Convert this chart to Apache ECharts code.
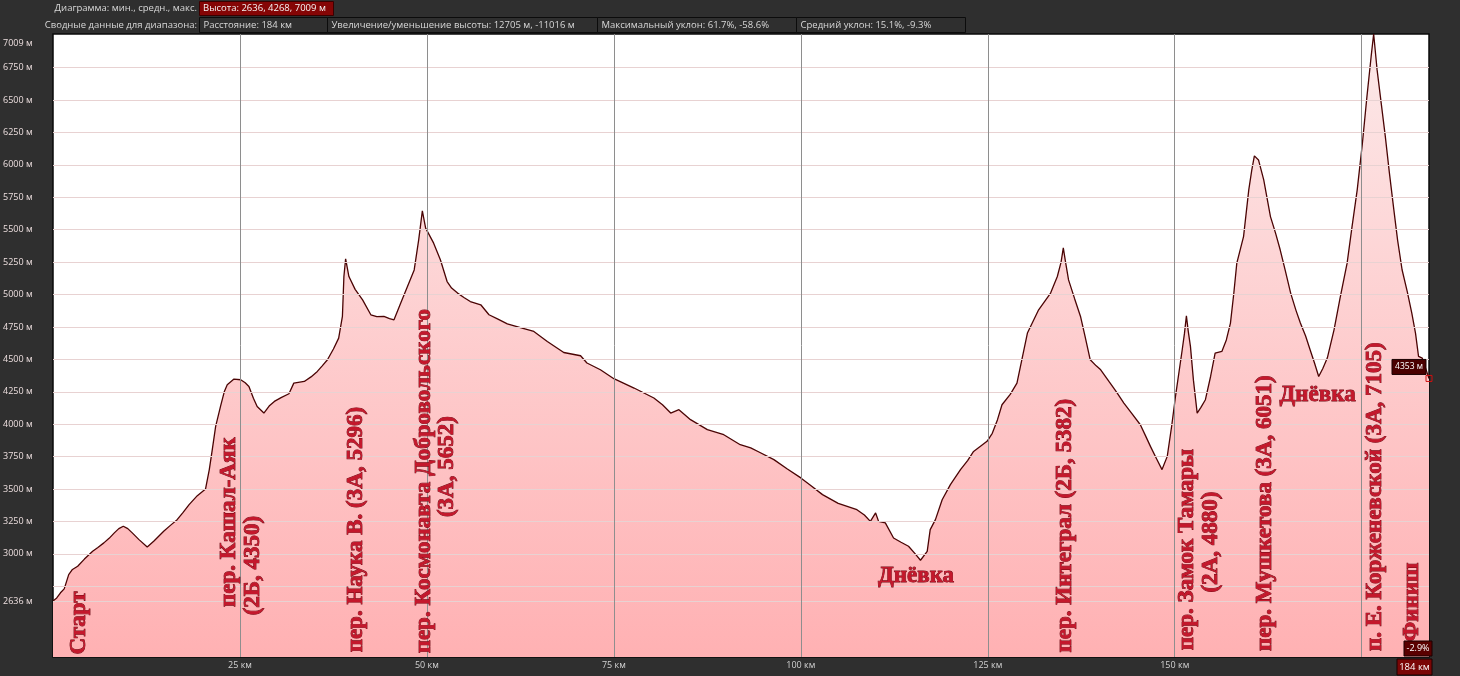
<!DOCTYPE html>
<html><head><meta charset="utf-8">
<script src="https://cdn.jsdelivr.net/npm/echarts@6/dist/echarts.min.js"></script>
<style>html,body{margin:0;padding:0;background:#2f2f2f;}#c{width:1460px;height:676px;}</style>
</head><body><div id="c"></div>
<script>
// ---- data ----
const distanceKm = [0,0.5,1.0,1.5,2.1,2.6,3.3,4.2,5.3,6.0,6.8,7.5,8.2,8.8,9.4,10.0,10.6,11.5,12.6,13.5,14.8,15.7,16.6,17.4,18.2,19.3,20.4,20.9,21.3,21.75,22.4,22.9,23.3,24.2,25.1,25.7,26.2,26.8,27.3,28.2,28.9,29.6,30.5,31.55,32.2,33.6,34.5,35.35,36.0,36.7,37.5,38.2,38.7,38.9,39.13,39.57,40.4,41.4,42.5,43.3,44.25,45.0,45.6,46.5,47.4,48.3,48.9,49.39,49.83,50.9,51.8,52.7,53.3,54.1,55.0,55.8,57.2,58.3,59.5,60.75,62.5,64.3,66.1,68.3,70.55,71.4,73.2,75.0,77.7,80.35,81.5,82.6,83.7,85.25,87.5,89.7,91.9,93.3,94.4,96.4,98.2,100.0,101.5,102.9,105.0,107.5,108.5,109.3,110.0,110.4,111.3,112.4,113.4,114.4,115.3,116.0,116.9,117.3,118.0,118.9,120.0,121.35,122.3,123.1,124.9,125.6,126.3,126.9,128.0,128.9,129.6,130.3,131.8,133.4,134.3,134.8,135.1,135.4,135.8,136.6,137.4,138.0,138.7,139.5,140.1,141.2,142.2,143.2,144.3,145.4,146.1,146.75,147.6,148.3,149.0,149.6,150.1,151.0,151.3,151.56,151.8,152.1,152.5,153.0,153.5,154.1,154.8,155.4,156.3,156.9,157.45,157.9,158.3,159.2,159.9,160.3,160.65,161.2,161.9,162.8,163.5,164.1,164.8,165.5,166.2,166.8,167.5,168.1,168.7,169.25,169.8,170.4,171.3,172.1,173.05,173.7,174.4,175.1,175.7,176.26,176.6,177.06,177.6,178.16,178.7,179.3,179.8,180.4,181.1,181.7,182.2,182.6,183.1,183.5,184.0];
const elevationM = [2636,2660,2700,2730,2840,2880,2905,2960,3020,3050,3085,3120,3162,3195,3213,3195,3162,3110,3054,3100,3174,3220,3264,3320,3380,3449,3501,3650,3804,3983,4137,4250,4304,4348,4343,4320,4291,4200,4137,4086,4140,4176,4205,4235,4317,4330,4365,4407,4450,4497,4580,4664,4831,5139,5275,5139,5040,4959,4844,4830,4831,4815,4805,4934,5062,5190,5422,5645,5512,5396,5268,5100,5050,5011,4975,4946,4921,4844,4810,4774,4745,4715,4638,4553,4528,4472,4420,4351,4279,4202,4150,4086,4112,4035,3958,3919,3842,3817,3786,3727,3655,3586,3520,3457,3390,3341,3300,3251,3316,3251,3239,3123,3090,3059,3000,2951,3020,3187,3264,3418,3534,3650,3720,3790,3868,3930,4035,4150,4230,4317,4510,4703,4882,5011,5139,5250,5360,5250,5113,4970,4831,4680,4497,4450,4420,4330,4250,4163,4080,3996,3910,3829,3730,3650,3752,3990,4214,4574,4700,4836,4720,4600,4340,4086,4130,4189,4370,4549,4561,4650,4780,5010,5242,5447,5807,5960,6069,6038,5884,5601,5470,5345,5180,5011,4880,4780,4680,4574,4470,4368,4430,4510,4728,4970,5242,5520,5807,6170,6526,6834,7009,6732,6480,6218,5940,5653,5420,5191,5020,4857,4700,4523,4510,4440,4353];
const xGridKm = [25,50,75,100,125,150,175];
const xLabelKm = [25,50,75,100,125,150];
const yGridM = [2636,2750,3000,3250,3500,3750,4000,4250,4500,4750,5000,5250,5500,5750,6000,6250,6500,6750];
const yLabelM = [2636,3000,3250,3500,3750,4000,4250,4500,4750,5000,5250,5500,5750,6000,6250,6500,6750,7009];
const headerRow1Label = 'Диаграмма: мин., средн., макс.';
const headerRow1Value = 'Высота: 2636, 4268, 7009 м';
const headerRow2Label = 'Сводные данные для диапазона:';
const headerRow2Values = ['Расстояние: 184 км','Увеличение/уменьшение высоты: 12705 м, -11016 м','Максимальный уклон: 61.7%, -58.6%','Средний уклон: 15.1%, -9.3%'];
const readoutSlope = '-2.9%';
const annotationText = ['Старт','пер. Кашал-Аяк','(2Б, 4350)','пер. Наука В. (3А, 5296)','пер. Космонавта Добровольского','(3А, 5652)','Днёвка','пер. Интеграл (2Б, 5382)','пер. Замок Тамары','(2А, 4880)','пер. Мушкетова (3А, 6051)','Днёвка','п. Е. Корженевской (3А, 7105)','Финиш'];
const annotationKm = [3.44,23.5,26.7,40.5,49.6,52.7,115.4,135.3,151.7,154.8,162.1,169.1,176.8,181.7];
const annotationM = [2467,3245,2910,3187,3561,3673,2827,3218,3033,3091,3314,4227,3441,2629];
const annotationVertical = [true,true,true,true,true,true,false,true,true,true,true,false,true,true];

// ---- chart ----
const yMin = 2205, yMax = 7009, xMax = 184;
const pts = distanceKm.map((d,i)=>[d, elevationM[i]]);
const chart = echarts.init(document.getElementById('c'), null, {renderer:'canvas'});
const uiFont = '"Open Sans", "Noto Sans", sans-serif';

const gridLines = yGridM.map(v=>({yAxis:v, lineStyle:{color:'#e8d2d2', width:1, type:'solid'}}))
  .concat(xGridKm.map(v=>({xAxis:v, lineStyle:{color:'#8e8e8e', width:1, type:'solid'}})));

chart.setOption({
  backgroundColor:'#2f2f2f',
  animation:false,
  grid:{left:52, right:31, top:34, bottom:19, show:true, backgroundColor:'#ffffff', borderColor:'#0a0a0a', borderWidth:1.5},
  xAxis:{type:'value', min:0, max:xMax,
    axisLine:{show:false}, axisTick:{show:false}, splitLine:{show:false},
    axisLabel:{customValues:xLabelKm, formatter:v=>v+' км', color:'#d2d2d2', fontSize:9, fontFamily:uiFont, margin:4}},
  yAxis:{type:'value', min:yMin, max:yMax,
    axisLine:{show:false}, axisTick:{show:false}, splitLine:{show:false},
    axisLabel:{customValues:yLabelM, align:'left', margin:50, color:'#ecdede', fontSize:9, fontFamily:uiFont,
      formatter:v=> v===yMax ? '{top|'+v+' м}' : v+' м',
      rich:{top:{padding:[18,0,0,0], color:'#ecdede', fontSize:9, fontFamily:uiFont}}}},
  series:[
    {type:'line', data:pts, z:1, symbol:'none', silent:true, lineStyle:{width:0, opacity:0},
      areaStyle:{origin:'start', opacity:1, color:new echarts.graphic.LinearGradient(0,0,0,1,[{offset:0,color:'#fce9e9'},{offset:1,color:'#ffb1b3'}])}},
    {type:'line', data:pts, z:2, symbol:'none', silent:true, lineStyle:{width:0, opacity:0},
      markLine:{silent:true, symbol:['none','none'], label:{show:false}, animation:false, data:gridLines}},
    {type:'line', data:pts, z:3, symbol:'none', silent:true, lineStyle:{color:'#4a0404', width:1.3}}
  ]
});

// graphics: header, annotations, readouts
const g = [];
g.push({type:'text', x:197, y:8, style:{text:headerRow1Label, align:'right', verticalAlign:'middle', fill:'#d8d8d8', font:'9.5px '+uiFont}});
g.push({type:'rect', shape:{x:199.5, y:1.5, width:134, height:14}, style:{fill:'#850505', stroke:'#3a0000', lineWidth:1}});
g.push({type:'text', x:203, y:8.5, style:{text:headerRow1Value, align:'left', verticalAlign:'middle', fill:'#f4f4f4', font:'9.5px '+uiFont}});
g.push({type:'text', x:197, y:25, style:{text:headerRow2Label, align:'right', verticalAlign:'middle', fill:'#d8d8d8', font:'9.5px '+uiFont}});
const boxX = [199.5,327.5,597.5,796.5,965.5];
headerRow2Values.forEach((t,i)=>{
  g.push({type:'rect', shape:{x:boxX[i], y:17.5, width:boxX[i+1]-boxX[i], height:15}, style:{fill:'#2f2f2f', stroke:'#0c0c0c', lineWidth:1}});
  g.push({type:'text', x:boxX[i]+4, y:25, style:{text:t, align:'left', verticalAlign:'middle', fill:'#d8d8d8', font:'9.5px '+uiFont}});
});
annotationText.forEach((t,i)=>{
  const p = chart.convertToPixel({gridIndex:0}, [annotationKm[i], annotationM[i]]);
  g.push({type:'text', x:p[0], y:p[1], rotation: annotationVertical[i] ? Math.PI/2 : 0, z:100,
    style:{text:t, align:'center', verticalAlign:'middle', fill:'#c4182c', stroke:'#6a0a14', lineWidth:0.8,
      font:'bold 23px "Liberation Serif", "Times New Roman", serif'}});
});
const last = pts[pts.length-1];
const pe = chart.convertToPixel({gridIndex:0}, last);
g.push({type:'rect', z:100, shape:{x:pe[0]-37, y:pe[1]-19, width:34, height:15}, style:{fill:'#4a0000', stroke:'#1a0000', lineWidth:1}});
g.push({type:'text', z:101, x:pe[0]-20, y:pe[1]-11.5, style:{text:last[1]+' м', align:'center', verticalAlign:'middle', fill:'#ffffff', font:'8.5px '+uiFont}});
g.push({type:'rect', z:100, shape:{x:pe[0]-3, y:pe[1]-3, width:6, height:6}, style:{fill:'none', stroke:'#d01010', lineWidth:1}});
const pb = chart.convertToPixel({gridIndex:0}, [xMax, yMin]);
g.push({type:'rect', z:100, shape:{x:pb[0]-25, y:pb[1]-16, width:28, height:15}, style:{fill:'#5a0000', stroke:'#1a0000', lineWidth:1}});
g.push({type:'text', z:101, x:pb[0]-11, y:pb[1]-8.5, style:{text:readoutSlope, align:'center', verticalAlign:'middle', fill:'#ffffff', font:'9px '+uiFont}});
g.push({type:'rect', z:100, shape:{x:pb[0]-32, y:pb[1]+2, width:35, height:16}, style:{fill:'#7a0606', stroke:'#1a0000', lineWidth:1}});
g.push({type:'text', z:101, x:pb[0]-14.5, y:pb[1]+10, style:{text:xMax+' км', align:'center', verticalAlign:'middle', fill:'#ffffff', font:'9.5px '+uiFont}});
chart.setOption({graphic:{elements:g}});
</script>
</body></html>
